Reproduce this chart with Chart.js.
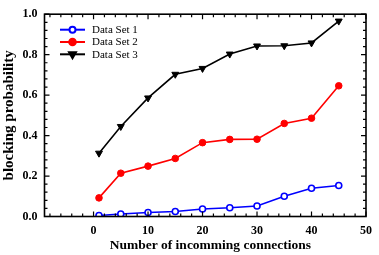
<!DOCTYPE html>
<html>
<head>
<meta charset="utf-8">
<script src="https://cdn.jsdelivr.net/npm/chart.js@4"></script>
<style>
  html, body { margin: 0; padding: 0; background: #fff; }
  #wrap { width: 379px; height: 255px; }
</style>
</head>
<body>
<div id="wrap"><canvas id="chart"></canvas></div>
<script>
// values
const connections = [1, 5, 10, 15, 20, 25, 30, 35, 40, 45];
const set1 = [0.005, 0.012, 0.020, 0.025, 0.037, 0.043, 0.052, 0.100, 0.140, 0.153];
const set2 = [0.092, 0.214, 0.249, 0.287, 0.365, 0.381, 0.382, 0.460, 0.486, 0.646];
const set3 = [0.313, 0.445, 0.586, 0.703, 0.732, 0.803, 0.843, 0.844, 0.858, 0.966];
const seriesNames = ["Data Set 1", "Data Set 2", "Data Set 3"];

const xMajor = [0, 10, 20, 30, 40, 50];
const xMinor = [-8, -6, -4, -2, 2, 4, 6, 8, 12, 14, 16, 18, 22, 24, 26, 28, 32, 34, 36, 38, 42, 44, 46, 48];
const yMajor = [0, 0.2, 0.4, 0.6, 0.8, 1.0];
const yMinor = [0.04, 0.08, 0.12, 0.16, 0.24, 0.28, 0.32, 0.36, 0.44, 0.48, 0.52, 0.56, 0.64, 0.68, 0.72, 0.76, 0.84, 0.88, 0.92, 0.96];

const FONT = "'Liberation Serif', 'Times New Roman', serif";

const pts = arr => connections.map((x, i) => ({ x, y: arr[i] }));

// frame + inward ticks on all four sides
const frameTicks = {
  id: "frameTicks",
  afterDatasetsDraw(chart) {
    const { ctx, chartArea: a, scales } = chart;
    ctx.save();
    ctx.strokeStyle = "#000";
    ctx.lineWidth = 1.2;
    const tick = (vals, len) => {
      vals.forEach(v => {
        const px = scales.x.getPixelForValue(v);
        ctx.beginPath();
        ctx.moveTo(px, a.bottom); ctx.lineTo(px, a.bottom - len);
        ctx.moveTo(px, a.top); ctx.lineTo(px, a.top + len);
        ctx.stroke();
      });
    };
    const tickY = (vals, len) => {
      vals.forEach(v => {
        const py = scales.y.getPixelForValue(v);
        ctx.beginPath();
        ctx.moveTo(a.left, py); ctx.lineTo(a.left + len, py);
        ctx.moveTo(a.right, py); ctx.lineTo(a.right - len, py);
        ctx.stroke();
      });
    };
    tick(xMajor, 5); tick(xMinor, 3);
    tickY(yMajor, 5); tickY(yMinor, 3);
    ctx.lineWidth = 1.6;
    ctx.strokeRect(a.left, a.top, a.right - a.left, a.bottom - a.top);
    ctx.restore();
  }
};

// legend drawn inside the plot, top-left
const innerLegend = {
  id: "innerLegend",
  afterDraw(chart) {
    const { ctx, chartArea: a } = chart;
    ctx.save();
    ctx.font = "11px " + FONT;
    ctx.textBaseline = "middle";
    chart.data.datasets.forEach((ds, i) => {
      const y = a.top + 15.5 + i * 12.3;
      const x0 = a.left + 15.5;
      ctx.strokeStyle = ds.borderColor;
      ctx.lineWidth = 2;
      ctx.beginPath();
      ctx.moveTo(x0, y); ctx.lineTo(x0 + 25, y);
      ctx.stroke();
      ctx.fillStyle = ds.pointBackgroundColor;
      ctx.strokeStyle = ds.borderColor;
      Chart.helpers.drawPoint(ctx, {
        pointStyle: ds.pointStyle,
        rotation: ds.pointRotation || 0,
        radius: ds.pointRadius,
        borderWidth: ds.pointBorderWidth
      }, x0 + 12.5, y);
      ctx.fillStyle = "#000";
      ctx.fillText(ds.label, x0 + 32, y + 0.5);
    });
    ctx.restore();
  }
};

new Chart(document.getElementById("chart"), {
  type: "line",
  data: {
    datasets: [
      {
        label: seriesNames[0], data: pts(set1),
        borderColor: "#0000ff", borderWidth: 1.6,
        pointStyle: "circle", pointRadius: 3, pointBorderWidth: 1.6,
        pointBackgroundColor: "#ffffff", pointBorderColor: "#0000ff"
      },
      {
        label: seriesNames[1], data: pts(set2),
        borderColor: "#ff0000", borderWidth: 1.6,
        pointStyle: "circle", pointRadius: 3.3, pointBorderWidth: 1,
        pointBackgroundColor: "#ff0000", pointBorderColor: "#ff0000"
      },
      {
        label: seriesNames[2], data: pts(set3),
        borderColor: "#000000", borderWidth: 1.6,
        pointStyle: "triangle", pointRotation: 180, pointRadius: 4, pointBorderWidth: 1,
        pointBackgroundColor: "#000000", pointBorderColor: "#000000"
      }
    ]
  },
  options: {
    responsive: true,
    maintainAspectRatio: false,
    animation: false,
    layout: { padding: { top: 6, right: 6, left: 0, bottom: 0 } },
    plugins: { legend: { display: false }, tooltip: { enabled: false } },
    scales: {
      x: {
        type: "linear", min: -9, max: 50,
        grid: { display: false, drawTicks: false },
        border: { display: false },
        afterBuildTicks: axis => { axis.ticks = xMajor.map(v => ({ value: v })); },
        afterFit: axis => { axis.height = 38.5; },
        ticks: {
          autoSkip: false, padding: 7, color: "#000",
          font: { family: FONT, size: 12, weight: "bold" },
          callback: v => String(v)
        },
        title: {
          display: true, text: "\u00a0\u00a0\u00a0Number of incomming connections", color: "#000",
          font: { family: FONT, size: 13.5, weight: "bold" },
          padding: { top: 0, bottom: 1 }
        }
      },
      y: {
        type: "linear", min: 0, max: 1,
        grid: { display: false, drawTicks: false },
        border: { display: false },
        afterBuildTicks: axis => { axis.ticks = yMajor.map(v => ({ value: v })); },
        afterFit: axis => { axis.width = 44.5; },
        ticks: {
          autoSkip: false, padding: 7, color: "#000",
          font: { family: FONT, size: 12, weight: "bold" },
          callback: v => Number(v).toFixed(1)
        },
        title: {
          display: true, text: "blocking probability", color: "#000",
          font: { family: FONT, size: 15, weight: "bold" },
          padding: { top: 0, bottom: 0 }
        }
      }
    }
  },
  plugins: [frameTicks, innerLegend]
});
</script>
</body>
</html>
